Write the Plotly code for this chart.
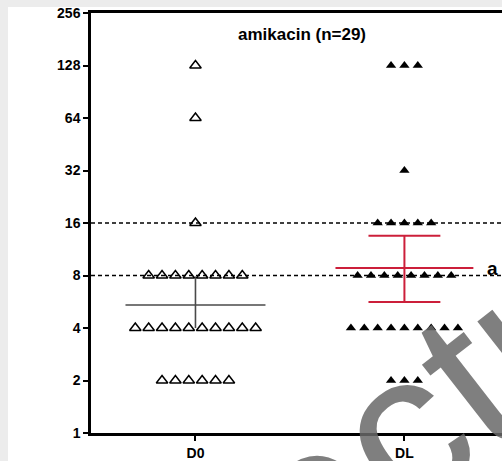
import math
import plotly.graph_objects as go
from collections import Counter

# ---- data ----
groups = ["D0", "DL"]
d0_mic = [128, 64, 16] + [8] * 8 + [4] * 10 + [2] * 6
dl_mic = [128] * 3 + [32] + [16] * 5 + [8] * 8 + [4] * 9 + [2] * 3
d0_stats = {"mean": 5.42, "low": 4.0, "high": 7.9}
dl_stats = {"mean": 8.84, "low": 5.64, "high": 13.5}
ref_lines = [16, 8]
y_ticks = [1, 2, 4, 8, 16, 32, 64, 128, 256]
title_text = "amikacin (n=29)"
sig_label = "a"
watermark = "ectu"

FONT = "Liberation Sans, Arial, sans-serif"
SPACING = 0.064


def jitter(values, center):
    counts = Counter(values)
    seen = Counter()
    xs = []
    for v in values:
        n = counts[v]
        i = seen[v]
        seen[v] += 1
        xs.append(center + (i - (n - 1) / 2) * SPACING)
    return xs


fig = go.Figure()

# reference dashed lines
for r in ref_lines:
    fig.add_shape(type="line", xref="x domain", yref="y", x0=0, x1=1, y0=r, y1=r,
                  line=dict(color="black", width=1.6, dash="4px,3px"), layer="below")

# D0 mean / error (grey)
grey = "#4a4a4a"
fig.add_trace(go.Scatter(x=[-0.335, 0.335], y=[d0_stats["mean"]] * 2, mode="lines",
                         line=dict(color=grey, width=1.6), showlegend=False, hoverinfo="skip"))
fig.add_trace(go.Scatter(x=[0, 0], y=[d0_stats["low"], d0_stats["high"]], mode="lines",
                         line=dict(color=grey, width=1.6), showlegend=False, hoverinfo="skip"))

# DL mean / error (red)
red = "#cc1f3a"
fig.add_trace(go.Scatter(x=[1 - 0.33, 1 + 0.33], y=[dl_stats["mean"]] * 2, mode="lines",
                         line=dict(color=red, width=2), showlegend=False, hoverinfo="skip"))
fig.add_trace(go.Scatter(x=[1, 1], y=[dl_stats["low"], dl_stats["high"]], mode="lines",
                         line=dict(color=red, width=2), showlegend=False, hoverinfo="skip"))
for yv in (dl_stats["low"], dl_stats["high"]):
    fig.add_trace(go.Scatter(x=[1 - 0.172, 1 + 0.172], y=[yv, yv], mode="lines",
                             line=dict(color=red, width=2), showlegend=False, hoverinfo="skip"))

# points
fig.add_trace(go.Scatter(x=jitter(d0_mic, 0), y=d0_mic, mode="markers",
                         marker=dict(symbol="triangle-up-open", size=10, color="black",
                                     line=dict(width=1.5, color="black")),
                         showlegend=False))
fig.add_trace(go.Scatter(x=jitter(dl_mic, 1), y=dl_mic, mode="markers",
                         marker=dict(symbol="triangle-up", size=9, color="black"),
                         showlegend=False))

fig.update_xaxes(range=[-0.5, 1.467], tickvals=[0, 1], ticktext=groups,
                 showline=True, linecolor="black", linewidth=2.5, mirror=True,
                 ticks="outside", ticklen=5, tickwidth=2, tickcolor="black",
                 showgrid=False, zeroline=False,
                 tickfont=dict(family=FONT, size=14, color="black", weight="bold"))
fig.update_yaxes(type="log", range=[0, 2.40824], tickvals=y_ticks,
                 ticktext=[str(t) for t in y_ticks],
                 showline=True, linecolor="black", linewidth=2.5,
                 ticks="outside", ticklen=5, tickwidth=2, tickcolor="black",
                 showgrid=False, zeroline=False,
                 tickfont=dict(family=FONT, size=14, color="black", weight="bold"))

annotations = [
    dict(text=title_text, x=0.513, y=0.948, xref="paper", yref="paper", showarrow=False,
         xanchor="center", yanchor="middle",
         font=dict(family=FONT, size=17, color="black", weight="bold")),
    dict(text=sig_label, x=1.42, y=math.log10(dl_stats["mean"]), xref="x", yref="y",
         showarrow=False, xanchor="center", yanchor="middle", yshift=-1,
         font=dict(family=FONT, size=19, color="black", weight="bold")),
    dict(text=watermark, x=0.81, y=0.05, xref="paper", yref="paper", showarrow=False,
         xanchor="center", yanchor="middle", textangle=-38,
         font=dict(family=FONT, size=215, color="rgba(105,105,105,0.85)")),
]

fig.update_layout(
    width=502, height=461,
    margin=dict(l=91, r=0, t=13, b=28),
    paper_bgcolor="white", plot_bgcolor="white",
    annotations=annotations,
    shapes=list(fig.layout.shapes) + [
        dict(type="rect", xref="paper", yref="paper", x0=-91 / 411, x1=-83 / 411,
             y0=-28 / 420, y1=448 / 420, fillcolor="#ececec", line=dict(width=0)),
        dict(type="rect", xref="paper", yref="paper", x0=-91 / 411, x1=1,
             y0=426 / 420, y1=448 / 420, fillcolor="#ececec", line=dict(width=0)),
    ],
)

fig.write_html("out.html")
